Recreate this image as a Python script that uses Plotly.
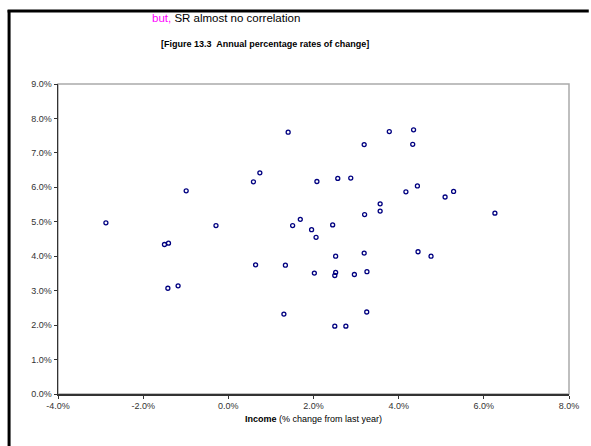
import plotly.graph_objects as go

# Income (% change from last year)
income = [-2.875, -1.50, -1.405, -1.42, -1.18, -0.99, -0.29, 0.59, 0.74, 0.64,
          1.305, 1.34, 1.405, 1.51, 1.69, 1.955, 2.06, 2.02, 2.08, 2.45,
          2.52, 2.52, 2.50, 2.50, 2.57, 2.76, 2.875, 2.96, 3.19, 3.20,
          3.19, 3.255, 3.25, 3.565, 3.565, 3.78, 4.17, 4.33, 4.35, 4.44,
          4.455, 4.76, 5.09, 5.29, 6.26]
# Annual percentage rate of change (y)
rate = [4.97, 4.34, 4.38, 3.07, 3.14, 5.90, 4.89, 6.16, 6.42, 3.75,
        2.32, 3.74, 7.60, 4.89, 5.07, 4.77, 4.55, 3.51, 6.17, 4.91,
        4.00, 3.53, 3.44, 1.97, 6.26, 1.97, 6.27, 3.47, 7.24, 5.21,
        4.09, 3.55, 2.38, 5.52, 5.31, 7.62, 5.87, 7.25, 7.67, 6.04,
        4.13, 4.00, 5.72, 5.88, 5.25]

x_ticks = [-4, -2, 0, 2, 4, 6, 8]
x_labels = ["-4.0%", "-2.0%", "0.0%", "2.0%", "4.0%", "6.0%", "8.0%"]
y_ticks = [0, 1, 2, 3, 4, 5, 6, 7, 8, 9]
y_labels = ["0.0%", "1.0%", "2.0%", "3.0%", "4.0%", "5.0%", "6.0%", "7.0%", "8.0%", "9.0%"]

W, H = 591, 446
L, R, T, B = 58, 16, 84, 52
pw, ph = W - L - R, H - T - B


def px(xp):
    return (xp - L) / pw


def py(yp):
    return (H - B - yp) / ph


fig = go.Figure()
fig.add_trace(go.Scatter(
    x=income, y=rate, mode="markers",
    marker=dict(symbol="circle-open", size=4, color="#000080",
                line=dict(width=1.3, color="#000080")),
    showlegend=False, hoverinfo="skip"))

font = "Arial, Liberation Sans, sans-serif"
axis_common = dict(showgrid=False, zeroline=False, showline=True,
                   linecolor="#333333", linewidth=1.5, ticks="outside",
                   ticklen=3, tickcolor="#333333", tickwidth=1,
                   tickfont=dict(family=font, size=9, color="#333333"))

fig.update_layout(
    width=W, height=H, autosize=False, hovermode=False,
    margin=dict(l=L, r=R, t=T, b=B),
    paper_bgcolor="white", plot_bgcolor="white",
    xaxis=dict(range=[-4, 8], tickvals=x_ticks, ticktext=x_labels, **axis_common),
    yaxis=dict(range=[0, 9], tickvals=y_ticks, ticktext=y_labels, **axis_common),
    shapes=[
        dict(type="rect", xref="paper", yref="paper", x0=0, y0=0, x1=1, y1=1,
             line=dict(color="#aaaaaa", width=1.5), layer="below"),
        dict(type="line", xref="paper", yref="paper",
             x0=px(8.5), x1=px(8.5), y0=py(450), y1=py(10),
             line=dict(color="black", width=3)),
        dict(type="line", xref="paper", yref="paper",
             x0=px(7), x1=px(595), y0=py(11), y1=py(11),
             line=dict(color="black", width=3)),
    ],
    annotations=[
        dict(xref="paper", yref="paper", x=px(151), y=py(18), xanchor="left",
             yanchor="middle", showarrow=False,
             text="<span style='color:#ff00ff'>but,</span> SR almost no correlation",
             font=dict(family=font, size=11.5, color="black")),
        dict(xref="paper", yref="paper", x=px(267), y=py(44), xanchor="center",
             yanchor="middle", showarrow=False,
             text="<b>[Figure 13.3  Annual percentage rates of change]</b>",
             font=dict(family=font, size=9, color="black")),
        dict(xref="paper", yref="paper", x=px(316), y=py(419), xanchor="center",
             yanchor="middle", showarrow=False,
             text="<b>Income</b> (% change from last year)",
             font=dict(family=font, size=9, color="black")),
    ],
)

fig.write_html(
    "out.html",
    config={"displayModeBar": False, "staticPlot": True},
    post_script="document.body.style.margin='0px';document.body.style.overflow='hidden';",
)
